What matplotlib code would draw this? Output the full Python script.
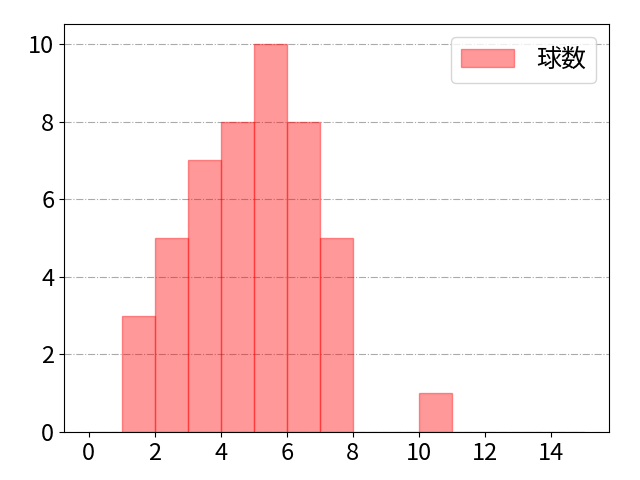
import matplotlib
matplotlib.use("Agg")
import matplotlib.pyplot as plt
import numpy as np

plt.rcParams['font.family'] = ['Noto Sans CJK JP', 'DejaVu Sans']
plt.rcParams['font.size'] = 17

bin_edges = list(range(0, 16))
counts = [0, 3, 5, 7, 8, 10, 8, 5, 0, 0, 1, 0, 0, 0, 0]
label = '球数'

fig = plt.figure(figsize=(6.4, 4.8), dpi=100)
ax = fig.add_axes([0.1, 0.1, 0.851, 0.849])
centers = np.array(bin_edges[:-1]) + 0.5
ax.hist(centers, bins=bin_edges, weights=counts, color='red', alpha=0.4,
        edgecolor='red', linewidth=1, label=label)
ax.set_xticks([0, 2, 4, 6, 8, 10, 12, 14])
ax.set_yticks([0, 2, 4, 6, 8, 10])
ax.grid(axis='y', linestyle='-.', color='#aaaaaa')
ax.set_axisbelow(True)
ax.legend(loc='upper right', fontsize=18, handlelength=2.1, handletextpad=0.9)
fig.savefig('out.png')
